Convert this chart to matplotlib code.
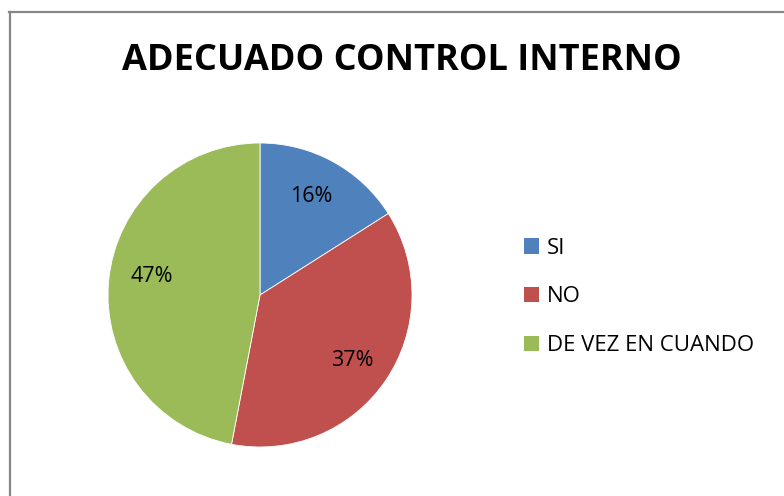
import matplotlib
matplotlib.use("Agg")
from matplotlib import pyplot as plt
from matplotlib.lines import Line2D
from matplotlib.patches import Patch
import numpy as np

categorias = ["SI", "NO", "DE VEZ EN CUANDO"]
valores = [16, 37, 47]
colores = ["#4F81BD", "#C0504D", "#9BBB59"]
titulo = "ADECUADO CONTROL INTERNO"

plt.rcParams['font.family'] = ['Open Sans', 'DejaVu Sans']

W, H = 784, 496
fig = plt.figure(figsize=(W / 100, H / 100), dpi=100)
fig.patch.set_facecolor("white")

# marco gris (solo izquierda y arriba visibles)
fig.add_artist(Line2D([9.5 / W, 9.5 / W], [0, 484 / H], color="#878787", lw=1.6))
fig.add_artist(Line2D([9 / W, 1], [484 / H, 484 / H], color="#878787", lw=1.6))

fig.text(402 / W, 1 - 61 / H, titulo, ha="center", va="center",
         fontsize=26, fontweight="bold", color="black")

# pastel: centro (260, 295), radio 152 px
cx, cy, r = 260, 295, 152
ax = fig.add_axes([(cx - r) / W, (H - cy - r) / H, 2 * r / W, 2 * r / H])
wedges, texts, autotexts = ax.pie(valores, colors=colores, startangle=90, counterclock=False,
                                  autopct="%1.0f%%", pctdistance=0.75,
                                  wedgeprops=dict(linewidth=0.6, edgecolor="white"),
                                  textprops=dict(fontsize=15.5, color="black"))
ax.set_xlim(-1, 1)
ax.set_ylim(-1, 1)
ax.set_aspect("equal")
ax.axis("off")

# ajuste de posiciones tipo Excel
autotexts[0].set_position((0.34, 0.65))
autotexts[1].set_position((0.61, -0.43))
autotexts[2].set_position((-0.71, 0.12))

handles = [Patch(facecolor=c, edgecolor="none") for c in colores]
leg = fig.legend(handles, categorias, loc="center left", bbox_to_anchor=(513 / W, 1 - 297 / H),
                 frameon=False, fontsize=16, handlelength=0.68, handleheight=0.68,
                 handletextpad=0.35, labelspacing=1.25, borderpad=0)

fig.savefig("out.png", dpi=100)
